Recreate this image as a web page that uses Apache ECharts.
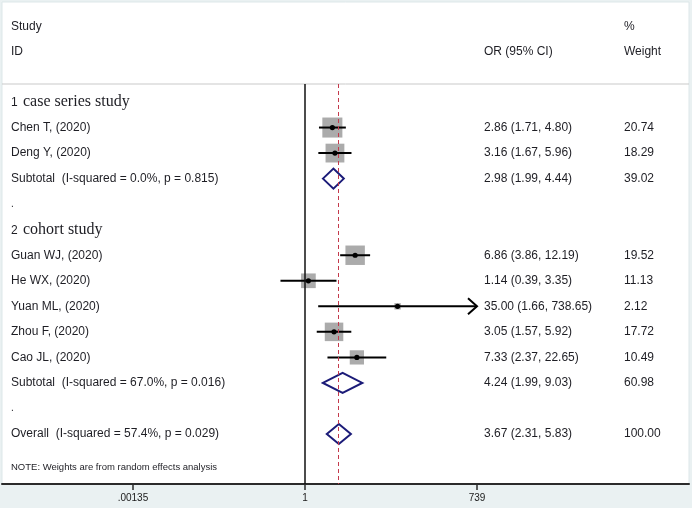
<!DOCTYPE html>
<html><head><meta charset="utf-8">
<script src="https://cdn.jsdelivr.net/npm/echarts@6/dist/echarts.min.js"></script>
<style>html,body{margin:0;padding:0;background:#eaf1f2;}#c{width:692px;height:508px;}</style>
</head><body><div id="c"></div>
<script>
// ---------------- data ----------------
const groupNums = ['1', '2'];
const groupNames = ['case series study', 'cohort study'];
const groupRows = [0, 5];

const studyLabels = ['Chen T, (2020)', 'Deng Y, (2020)', 'Guan WJ, (2020)', 'He WX, (2020)', 'Yuan ML, (2020)', 'Zhou F, (2020)', 'Cao JL, (2020)'];
const studyRows = [1, 2, 6, 7, 8, 9, 10];
const studyOR = [2.86, 3.16, 6.86, 1.14, 35.00, 3.05, 7.33];
const studyLo = [1.71, 1.67, 3.86, 0.39, 1.66, 1.57, 2.37];
const studyHi = [4.80, 5.96, 12.19, 3.35, 738.65, 5.92, 22.65];
const studyWeight = [20.74, 18.29, 19.52, 11.13, 2.12, 17.72, 10.49];

const pooledLabels = ['Subtotal  (I-squared = 0.0%, p = 0.815)', 'Subtotal  (I-squared = 67.0%, p = 0.016)', 'Overall  (I-squared = 57.4%, p = 0.029)'];
const pooledRows = [3, 11, 13];
const pooledOR = [2.98, 4.24, 3.67];
const pooledLo = [1.99, 1.99, 2.31];
const pooledHi = [4.44, 9.03, 5.83];
const pooledWeight = [39.02, 60.98, 100.00];

const spacerRows = [4, 12];
const noteText = 'NOTE: Weights are from random effects analysis';

const tickValues = [0.00135, 1, 739];
const tickLabels = ['.00135', '1', '739'];
// ---------------------------------------

const SANS = '"Liberation Sans", Arial, sans-serif';
const SERIF = '"Liberation Serif", "Times New Roman", serif';
const TXT = '#1e1e24';
const lg = v => Math.log10(v);
const tickLogs = tickValues.map(lg);
const xUpper = tickValues[tickValues.length - 1];

const chart = echarts.init(document.getElementById('c'), null, {renderer: 'canvas'});

const COL_LABEL = 11, COL_OR = 484, COL_W = 624;
const fmt = (o, l, h) => o.toFixed(2) + ' (' + l.toFixed(2) + ', ' + h.toFixed(2) + ')';

function txt(x, y, text, size, family, extra) {
  return Object.assign({type: 'text', style: {x: x, y: y, text: text, fontSize: size, fontFamily: family || SANS, fill: TXT, textAlign: 'left', textVerticalAlign: 'middle', verticalAlign: 'middle'}}, extra || {});
}

const studyData = studyRows.map((r, i) => [i, r, lg(studyOR[i]), lg(studyLo[i]), lg(studyHi[i]), studyWeight[i]]);
const pooledData = pooledRows.map((r, i) => [i, r, lg(pooledOR[i]), lg(pooledLo[i]), lg(pooledHi[i]), pooledWeight[i]]);

// text rows: kind 0 = group, 1 = study, 2 = pooled, 3 = spacer
const textData = [];
groupRows.forEach((r, i) => textData.push([0, i, r]));
studyRows.forEach((r, i) => textData.push([1, i, r]));
pooledRows.forEach((r, i) => textData.push([2, i, r]));
spacerRows.forEach((r, i) => textData.push([3, i, r]));

const option = {
  backgroundColor: '#eaf1f2',
  animation: false,
  grid: {left: 2, right: 3, top: 84, bottom: 24, containLabel: false},
  xAxis: {
    type: 'value', min: -5.053, max: 6.404,
    axisLine: {show: true, onZero: false, lineStyle: {color: '#2b2b2b', width: 2}},
    axisTick: {show: true, customValues: tickLogs, length: 6, lineStyle: {color: '#2b2b2b', width: 1.5}},
    axisLabel: {show: true, customValues: tickLogs, margin: 9, fontSize: 10, fontFamily: SANS, color: '#1a1a1a',
      formatter: v => { for (let k = 0; k < tickLogs.length; k++) if (Math.abs(tickLogs[k] - v) < 1e-6) return tickLabels[k]; return ''; }},
    splitLine: {show: false}
  },
  yAxis: {type: 'value', inverse: true, min: -0.705, max: 14.957, show: false, splitLine: {show: false}},
  graphic: [
    {type: 'rect', z: -10, shape: {x: 2, y: 2, width: 687, height: 482}, style: {fill: '#ffffff', stroke: '#dde7e9', lineWidth: 1}},
    {type: 'line', z: -5, shape: {x1: 2, y1: 84, x2: 689, y2: 84}, style: {stroke: '#c9c9c9', lineWidth: 1}},
    txt(COL_LABEL, 27, 'Study', 12),
    txt(COL_LABEL, 52, 'ID', 12),
    txt(COL_OR, 52, 'OR (95% CI)', 12),
    txt(COL_W, 27, '%', 12),
    txt(COL_W, 52, 'Weight', 12),
    txt(COL_LABEL, 467, noteText, 9.5)
  ],
  series: [
    {
      type: 'line', data: [], z: 1, silent: true,
      markLine: {
        silent: true, symbol: 'none', label: {show: false},
        data: [
          {xAxis: 0, lineStyle: {color: '#111', width: 1.5, type: 'solid'}},
          {xAxis: lg(pooledOR[pooledOR.length - 1]), lineStyle: {color: '#c43a4c', width: 1, type: [4, 3]}}
        ]
      }
    },
    {
      type: 'custom', z: 3, silent: true, data: studyData,
      renderItem: function (params, api) {
        const row = api.value(1);
        const c = api.coord([api.value(2), row]);
        const l = api.coord([api.value(3), row]);
        const h = api.coord([api.value(4), row]);
        const s = 4.4 * Math.sqrt(api.value(5));
        const ch = [
          {type: 'rect', shape: {x: c[0] - s / 2, y: c[1] - s / 2, width: s, height: s}, style: {fill: '#ababab'}},
          {type: 'line', shape: {x1: l[0], y1: c[1], x2: h[0], y2: c[1]}, style: {stroke: '#000', lineWidth: 2}},
          {type: 'circle', shape: {cx: c[0], cy: c[1], r: 2.6}, style: {fill: '#000'}}
        ];
        if (Math.round(Math.pow(10, api.value(4))) >= xUpper) {
          ch.push({type: 'polyline', shape: {points: [[h[0] - 9, c[1] - 8], [h[0], c[1]], [h[0] - 9, c[1] + 8]]}, style: {stroke: '#000', lineWidth: 2, fill: null}});
        }
        return {type: 'group', children: ch};
      }
    },
    {
      type: 'custom', z: 3, silent: true, data: pooledData,
      renderItem: function (params, api) {
        const row = api.value(1);
        const c = api.coord([api.value(2), row]);
        const l = api.coord([api.value(3), row]);
        const h = api.coord([api.value(4), row]);
        const hh = 10;
        return {type: 'polygon', shape: {points: [[l[0], c[1]], [c[0], c[1] - hh], [h[0], c[1]], [c[0], c[1] + hh]]},
          style: {stroke: '#1b1b78', lineWidth: 2, fill: 'rgba(0,0,0,0)'}};
      }
    },
    {
      type: 'custom', z: 4, silent: true, data: textData,
      renderItem: function (params, api) {
        const kind = api.value(0), i = api.value(1), row = api.value(2);
        const y = api.coord([0, row])[1];
        if (kind === 0) {
          return {type: 'group', children: [
            txt(COL_LABEL, y + 1, groupNums[i], 12),
            txt(COL_LABEL + 12, y, groupNames[i], 16, SERIF)
          ]};
        }
        if (kind === 1) {
          return {type: 'group', children: [
            txt(COL_LABEL, y, studyLabels[i], 12),
            txt(COL_OR, y, fmt(studyOR[i], studyLo[i], studyHi[i]), 12),
            txt(COL_W, y, studyWeight[i].toFixed(2), 12)
          ]};
        }
        if (kind === 2) {
          return {type: 'group', children: [
            txt(COL_LABEL, y, pooledLabels[i], 12),
            txt(COL_OR, y, fmt(pooledOR[i], pooledLo[i], pooledHi[i]), 12),
            txt(COL_W, y, pooledWeight[i].toFixed(2), 12)
          ]};
        }
        return txt(COL_LABEL, y, '.', 10);
      }
    }
  ]
};
chart.setOption(option);
</script>
</body></html>
